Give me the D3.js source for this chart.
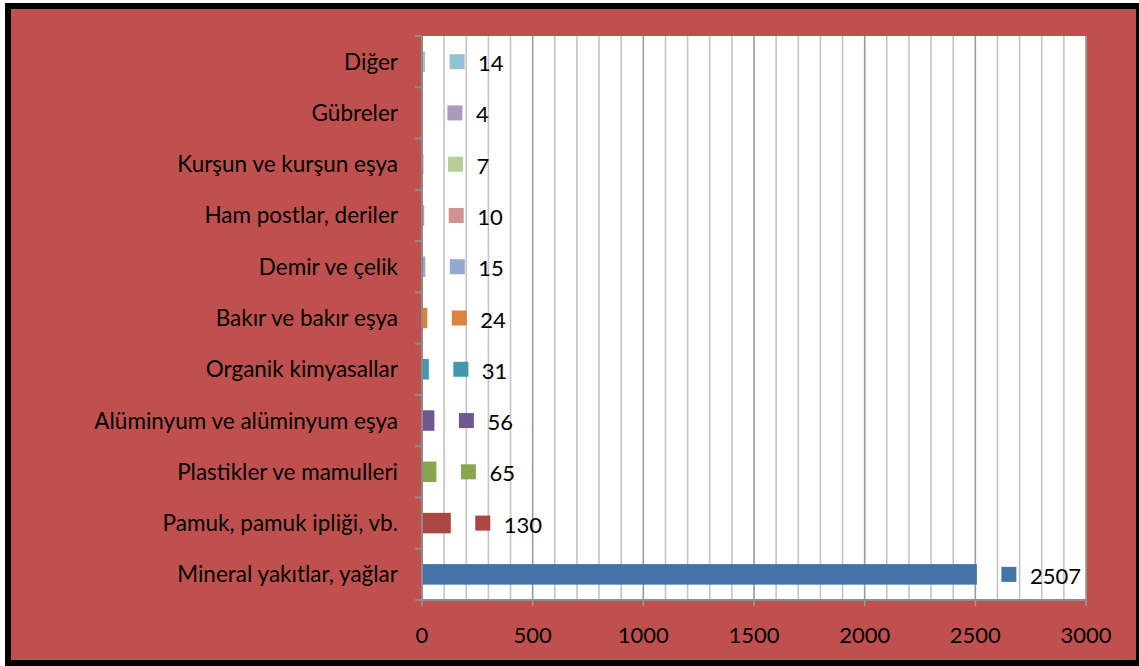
<!DOCTYPE html>
<html>
<head>
<meta charset="utf-8">
<script src="https://cdn.jsdelivr.net/npm/d3@7"></script>
<style>
  html, body { margin: 0; padding: 0; background: #fff; }
  svg { display: block; }
</style>
</head>
<body>
<svg id="chart"></svg>
<script>
// categories bottom-to-top as in the picture
var categories = [
  "Mineral yakıtlar, yağlar",
  "Pamuk, pamuk ipliği, vb.",
  "Plastikler ve mamulleri",
  "Alüminyum ve alüminyum eşya",
  "Organik kimyasallar",
  "Bakır ve bakır eşya",
  "Demir ve çelik",
  "Ham postlar, deriler",
  "Kurşun ve kurşun eşya",
  "Gübreler",
  "Diğer"
];
var values = [2507, 130, 65, 56, 31, 24, 15, 10, 7, 4, 14];
var colors = ["#4572a7", "#aa4643", "#89a54e", "#71588f", "#4198af", "#db843d",
  "#93a9cf", "#d19392", "#b9cd96", "#a99bbd", "#91c3d5"];
var xTicks = [0, 500, 1000, 1500, 2000, 2500, 3000];

(function () {
  var width = 1139, height = 666;
  var plot = { left: 422, top: 36, right: 1086, bottom: 600 };
  var font = "Lato, 'Open Sans', sans-serif";

  var svg = d3.select("#chart").attr("width", width).attr("height", height);

  // red frame with black border
  svg.append("rect")
    .attr("x", 8).attr("y", 6)
    .attr("width", width - 8).attr("height", 657)
    .attr("fill", "#c0504d")
    .attr("stroke", "#000").attr("stroke-width", 6);

  var x = d3.scaleLinear().domain([0, 3000]).range([plot.left, plot.right]);
  var y = d3.scaleBand()
    .domain(categories.slice().reverse())
    .range([plot.top, plot.bottom]);

  svg.append("rect")
    .attr("x", plot.left).attr("y", plot.top)
    .attr("width", plot.right - plot.left).attr("height", plot.bottom - plot.top)
    .attr("fill", "#fff");

  // minor gridlines every 100
  var minor = d3.range(100, 3000, 100).filter(function (v) { return v % 500 !== 0; });
  svg.append("g").selectAll("line").data(minor).enter().append("line")
    .attr("x1", function (d) { return x(d); }).attr("x2", function (d) { return x(d); })
    .attr("y1", plot.top).attr("y2", plot.bottom)
    .attr("stroke", "#c4c4c4").attr("stroke-width", 1.6);

  // major gridlines + ticks
  svg.append("g").selectAll("line").data(xTicks.slice(1)).enter().append("line")
    .attr("x1", function (d) { return x(d); }).attr("x2", function (d) { return x(d); })
    .attr("y1", plot.top).attr("y2", plot.bottom + 6)
    .attr("stroke", "#9a9a9a").attr("stroke-width", 1.6);

  // category axis
  svg.append("line")
    .attr("x1", plot.left).attr("x2", plot.left)
    .attr("y1", plot.top).attr("y2", plot.bottom + 6)
    .attr("stroke", "#8c8c8c").attr("stroke-width", 2);
  var bounds = d3.range(categories.length + 1).map(function (i) {
    return plot.top + i * y.step();
  });
  svg.append("g").selectAll("line").data(bounds).enter().append("line")
    .attr("x1", plot.left - 7).attr("x2", plot.left)
    .attr("y1", function (d) { return d; }).attr("y2", function (d) { return d; })
    .attr("stroke", "#8c8c8c").attr("stroke-width", 2);

  // value axis line
  svg.append("line")
    .attr("x1", plot.left - 7).attr("x2", plot.right)
    .attr("y1", plot.bottom).attr("y2", plot.bottom)
    .attr("stroke", "#8c8c8c").attr("stroke-width", 2);

  svg.append("g").selectAll("text").data(xTicks).enter().append("text")
    .attr("x", function (d) { return x(d); })
    .attr("y", 643)
    .attr("text-anchor", "middle")
    .attr("font-family", font).attr("font-size", 22)
    .attr("fill", "#000")
    .text(function (d) { return d; });

  // category labels
  svg.append("g").selectAll("text").data(categories).enter().append("text")
    .attr("x", 398)
    .attr("y", function (d) { return y(d) + y.bandwidth() / 2 + 8; })
    .attr("text-anchor", "end")
    .attr("font-family", font).attr("font-size", 22.5)
    .attr("fill", "#000")
    .text(function (d) { return d; });

  var barH = y.bandwidth() * 0.4;
  var rows = categories.map(function (c, i) {
    return { name: c, value: values[i], color: colors[i] };
  });

  var g = svg.append("g").selectAll("g").data(rows).enter().append("g");
  g.append("rect")
    .attr("x", plot.left + 1)
    .attr("y", function (d) { return y(d.name) + (y.bandwidth() - barH) / 2; })
    .attr("width", function (d) { return x(d.value) - plot.left - 1; })
    .attr("height", barH)
    .attr("fill", function (d) { return d.color; });

  g.append("rect")
    .attr("x", function (d) { return x(d.value) + 32 - 7.5; })
    .attr("y", function (d) { return y(d.name) + y.bandwidth() / 2 - 7.5; })
    .attr("width", 15).attr("height", 15)
    .attr("fill", function (d) { return d.color; });

  g.append("text")
    .attr("x", function (d) { return x(d.value) + 53; })
    .attr("y", function (d) { return y(d.name) + y.bandwidth() / 2 + 9.5; })
    .attr("font-family", font).attr("font-size", 22)
    .attr("fill", "#000")
    .text(function (d) { return d.value; });
})();
</script>
</body>
</html>
